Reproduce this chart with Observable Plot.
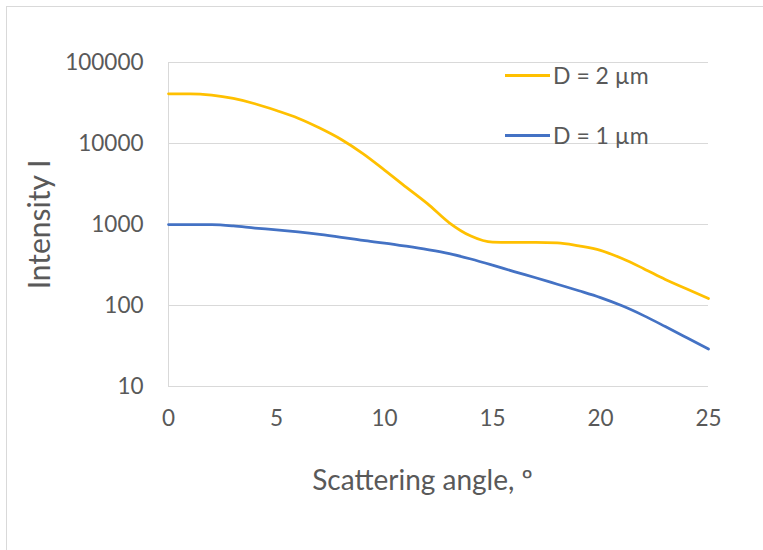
<!DOCTYPE html>
<html>
<head>
<meta charset="utf-8">
<script src="https://cdn.jsdelivr.net/npm/d3@7"></script>
<script src="https://cdn.jsdelivr.net/npm/@observablehq/plot@0.6"></script>
<style>
  html, body { margin: 0; padding: 0; background: #fff; }
  #wrap { position: relative; width: 763px; height: 550px; overflow: hidden; font-family: Lato, sans-serif; }
  #frame { position: absolute; left: 6px; top: 6px; width: 800px; height: 600px; border-top: 1px solid #d9d9d9; border-left: 1px solid #d9d9d9; }
  #chart { position: absolute; left: 0; top: 0; }
  .leg { position: absolute; display: flex; align-items: center; color: #595959; font-size: 23px; }
  .leg span.sw { display: inline-block; width: 45px; height: 3px; margin-right: 3px; }
</style>
</head>
<body>
<div id="wrap">
  <div id="frame"></div>
  <div id="chart"></div>
  <div id="legend"></div>
</div>
<script>
const angles = [0,1,2,3,4,5,6,7,8,9,10,11,12,13,14,15,16,17,18,19,20,21,22,23,24,25];
const intensityD2 = [41000,41000,39500,36000,31000,25500,20500,15500,11200,7500,4700,2900,1800,1050,720,605,600,600,595,545,480,380,285,210,160,122];
const intensityD1 = [1000,1000,995,960,905,860,810,755,695,635,590,540,490,437,375,315,262,220,183,152,125,99,75,55,40,29];
const seriesNames = ["D = 2 µm", "D = 1 µm"];
const seriesColors = ["#FFC000", "#4472C4"];
const xTicks = [0,5,10,15,20,25];
const yTicks = [10,100,1000,10000,100000];
const xLabel = "Scattering angle, º";
const yLabel = "Intensity I";

const data = angles.flatMap((a, i) => [
  {angle: a, I: intensityD2[i], s: seriesNames[0]},
  {angle: a, I: intensityD1[i], s: seriesNames[1]}
]);

const chart = Plot.plot({
  width: 763,
  height: 550,
  marginLeft: 168,
  marginRight: 55,
  marginTop: 62,
  marginBottom: 164,
  style: {fontFamily: "Lato, sans-serif", color: "#595959", background: "transparent"},
  x: {domain: [0, 25]},
  y: {type: "log", domain: [10, 100000]},
  color: {domain: seriesNames, range: seriesColors},
  marks: [
    Plot.gridY(yTicks, {stroke: "#d9d9d9", strokeOpacity: 1, strokeWidth: 1}),
    Plot.ruleX([0], {stroke: "#d9d9d9", strokeWidth: 1}),
    Plot.axisY({ticks: yTicks, tickSize: 0, tickPadding: 25, fontSize: 22.5, tickFormat: d => String(d), label: null}),
    Plot.axisX({ticks: xTicks, tickSize: 0, tickPadding: 24, fontSize: 22.5, tickFormat: d => String(d), label: null}),
    Plot.line(data, {x: "angle", y: "I", z: "s", stroke: "s", strokeWidth: 2.75, curve: "monotone-x"}),
    Plot.text([xLabel], {frameAnchor: "bottom", dy: 95, dx: -16, fontSize: 28, textAnchor: "middle", lineAnchor: "middle", fill: "#595959"}),
    Plot.text([yLabel], {frameAnchor: "left", dx: -128, dy: 0, rotate: -90, fontSize: 30, textAnchor: "middle", lineAnchor: "middle", fill: "#595959"})
  ]
});
document.getElementById("chart").appendChild(chart);

const legend = document.getElementById("legend");
const legendY = [75, 135];
seriesNames.forEach((name, i) => {
  const row = document.createElement("div");
  row.className = "leg";
  row.style.left = "505px";
  row.style.top = (legendY[i] - 15) + "px";
  row.style.height = "30px";
  const sw = document.createElement("span");
  sw.className = "sw";
  sw.style.background = seriesColors[i];
  row.appendChild(sw);
  const t = document.createElement("span");
  t.textContent = name;
  row.appendChild(t);
  legend.appendChild(row);
});
</script>
</body>
</html>
